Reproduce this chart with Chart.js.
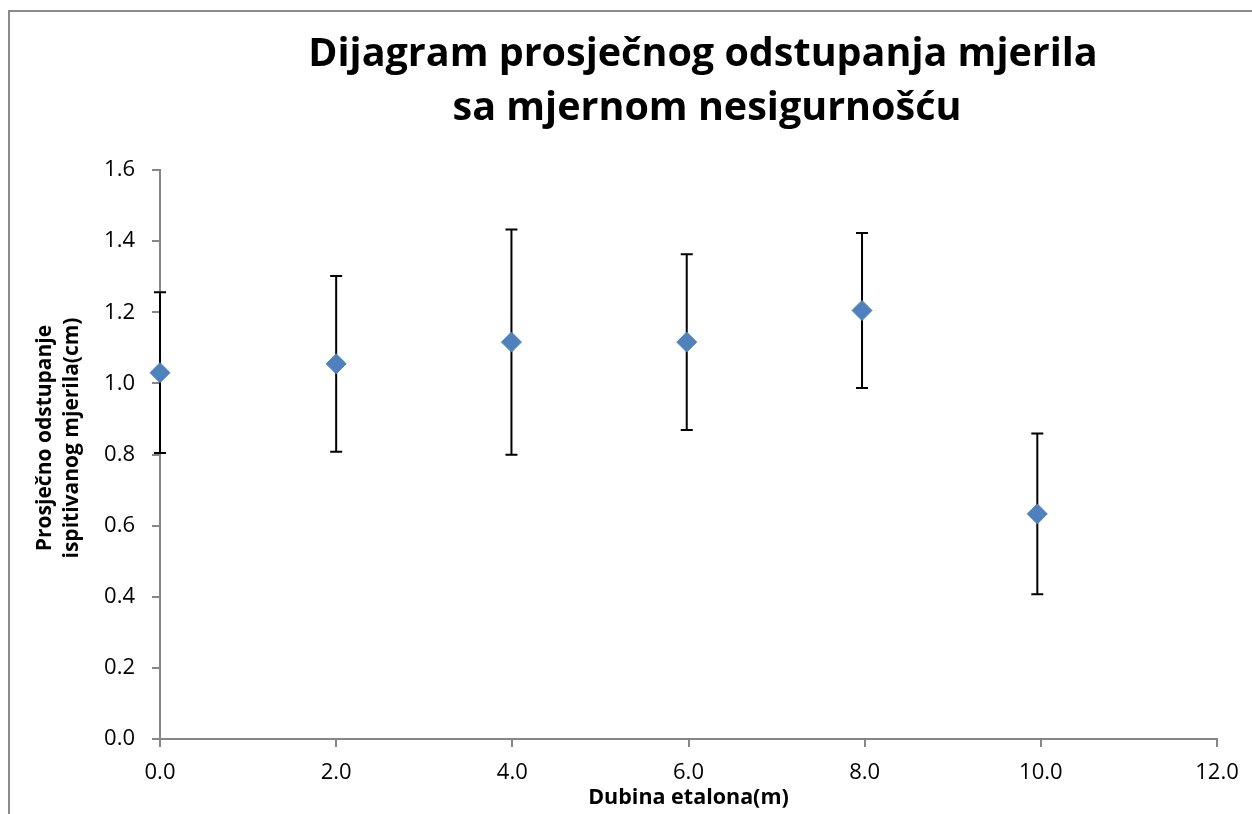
<!DOCTYPE html>
<html>
<head>
<meta charset="utf-8">
<script src="https://cdn.jsdelivr.net/npm/chart.js@4.4.0/dist/chart.umd.min.js"></script>
<style>
  html, body { margin: 0; padding: 0; background: #fff; overflow: hidden; }
  #wrap { position: relative; width: 1252px; height: 814px; }
  #okvir { position: absolute; left: 8px; top: 10px; width: 1270px; height: 830px;
           border: 2px solid #8a8a8a; box-sizing: border-box; pointer-events: none; }
  canvas { position: absolute; left: 0; top: 0; }
</style>
</head>
<body>
<div id="wrap">
  <canvas id="graf" width="1252" height="814"></canvas>
  <div id="okvir"></div>
</div>
<script>
// podaci sa dijagrama
const dubina = [0, 2, 3.99, 5.98, 7.97, 9.96];
const odstupanje = [1.030, 1.055, 1.116, 1.116, 1.205, 0.633];
const nesigurnost = [0.226, 0.247, 0.317, 0.247, 0.218, 0.226];

const xTicks = [0, 2, 4, 6, 8, 10, 12];
const yTicks = [0, 0.2, 0.4, 0.6, 0.8, 1.0, 1.2, 1.4, 1.6];

const naslov = ['Dijagram prosječnog odstupanja mjerila', 'sa mjernom nesigurnošću'];
const naslovX = 'Dubina etalona(m)';
const naslovY = ['Prosječno odstupanje', 'ispitivanog mjerila(cm)'];

const font = '"Open Sans", "Noto Sans", sans-serif';
const sivo = '#868686';

// crtanje error barova (mjerna nesigurnost)
const errorBars = {
    id: 'errorBars',
    beforeDatasetsDraw(chart) {
        const ctx = chart.ctx;
        const xs = chart.scales.x, ys = chart.scales.y;
        ctx.save();
        ctx.strokeStyle = '#000';
        ctx.lineWidth = 2;
        for (let i = 0; i < dubina.length; i++) {
            const px = xs.getPixelForValue(dubina[i]);
            const gore = ys.getPixelForValue(odstupanje[i] + nesigurnost[i]);
            const dole = ys.getPixelForValue(odstupanje[i] - nesigurnost[i]);
            ctx.beginPath();
            ctx.moveTo(px, gore); ctx.lineTo(px, dole);
            ctx.moveTo(px - 6, gore); ctx.lineTo(px + 6, gore);
            ctx.moveTo(px - 6, dole); ctx.lineTo(px + 6, dole);
            ctx.stroke();
        }
        ctx.restore();
    }
};

// naslov i naslov y ose
const naslovi = {
    id: 'naslovi',
    afterDraw(chart) {
        const ctx = chart.ctx;
        ctx.save();
        ctx.fillStyle = '#000';
        ctx.textAlign = 'center';
        ctx.textBaseline = 'alphabetic';
        ctx.font = 'bold 39.5px ' + font;
        ctx.fillText(naslov[0], 703, 66);
        ctx.fillText(naslov[1], 707, 120);

        ctx.font = 'bold 21px ' + font;
        ctx.textBaseline = 'middle';
        const sredina = 438;
        [45, 72].forEach((x, i) => {
            ctx.save();
            ctx.translate(x, sredina);
            ctx.rotate(-Math.PI / 2);
            ctx.fillText(naslovY[i], 0, 0);
            ctx.restore();
        });
        ctx.restore();
    }
};

new Chart('graf', {
    type: 'scatter',
    data: {
        datasets: [{
            data: dubina.map((x, i) => ({x: x, y: odstupanje[i]})),
            pointStyle: 'rectRot',
            pointRadius: 10,
            pointHoverRadius: 10,
            backgroundColor: '#4F81BD',
            borderColor: '#4F81BD',
            borderWidth: 1,
            clip: false
        }]
    },
    options: {
        responsive: false,
        devicePixelRatio: 1,
        animation: false,
        events: [],
        layout: {padding: {top: 170, right: 35, bottom: 0, left: 0}},
        plugins: {
            legend: {display: false},
            tooltip: {enabled: false}
        },
        scales: {
            x: {
                type: 'linear',
                min: 0, max: 12,
                afterBuildTicks: s => { s.ticks = xTicks.map(v => ({value: v})); },
                afterFit: s => { s.height = 75; },
                grid: {display: true, drawOnChartArea: false, drawTicks: true, tickLength: 8, color: sivo, lineWidth: 2},
                border: {display: true, color: sivo, width: 2},
                ticks: {
                    padding: 13,
                    color: '#000',
                    font: {family: font, size: 22},
                    callback: v => v.toFixed(1)
                },
                title: {
                    display: true,
                    text: naslovX,
                    color: '#000',
                    font: {family: font, size: 21.5, weight: 'bold'},
                    padding: {top: 0, bottom: 3}
                }
            },
            y: {
                type: 'linear',
                min: 0, max: 1.6,
                afterBuildTicks: s => { s.ticks = yTicks.map(v => ({value: v})); },
                afterFit: s => { s.width = 160; },
                grid: {display: true, drawOnChartArea: false, drawTicks: true, tickLength: 8, color: sivo, lineWidth: 2},
                border: {display: true, color: sivo, width: 2},
                ticks: {
                    padding: 17,
                    color: '#000',
                    font: {family: font, size: 22},
                    callback: v => v.toFixed(1)
                }
            }
        }
    },
    plugins: [errorBars, naslovi]
});
</script>
</body>
</html>
